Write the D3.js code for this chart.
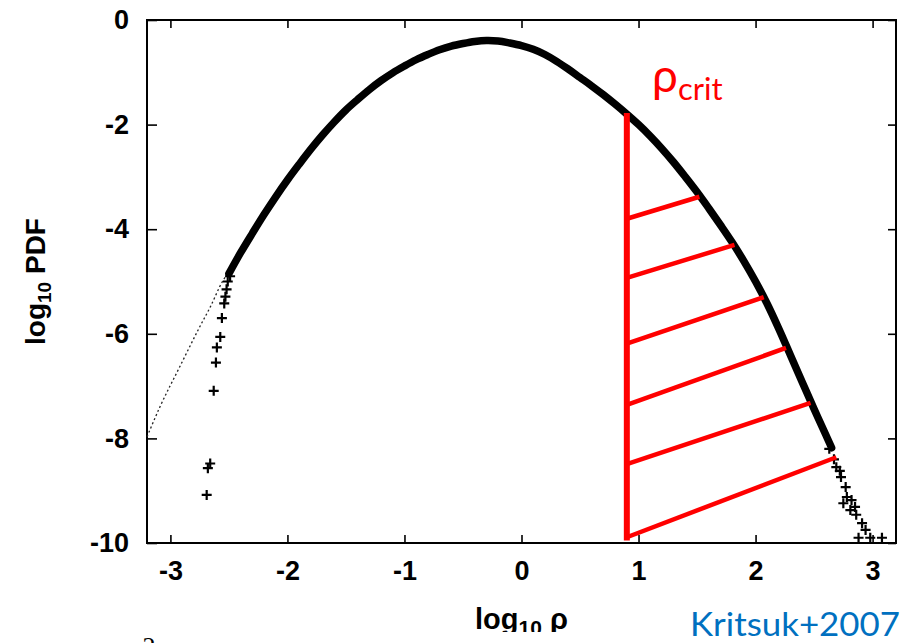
<!DOCTYPE html>
<html>
<head>
<meta charset="utf-8">
<script src="https://cdn.jsdelivr.net/npm/d3@7"></script>
<style>
  body { margin: 0; background: #fff; }
  svg { display: block; }
</style>
</head>
<body>
<svg id="chart" width="910" height="643"></svg>
<script>
// Axis ticks
const xTicks = [-3, -2, -1, 0, 1, 2, 3];
const yTicks = [0, -2, -4, -6, -8, -10];

// Density PDF, dense part of the distribution (log10 rho, log10 PDF)
const logRho = [-2.5, -2.4, -2.3, -2.2, -2.1, -2.0, -1.9, -1.8, -1.7, -1.6, -1.5, -1.4, -1.3, -1.2, -1.1, -1.0,
  -0.9, -0.8, -0.7, -0.6, -0.5, -0.4, -0.3, -0.2, -0.1, 0.0, 0.1, 0.2, 0.3, 0.4, 0.5, 0.6, 0.7, 0.8, 0.9,
  1.0, 1.1, 1.2, 1.3, 1.4, 1.5, 1.6, 1.7, 1.8, 1.9, 2.0, 2.1, 2.2, 2.3, 2.4, 2.5, 2.6, 2.65];
const logPdf = [-4.85, -4.45, -4.08, -3.72, -3.38, -3.06, -2.76, -2.47, -2.20, -1.95, -1.72, -1.52, -1.33, -1.16, -1.01, -0.88,
  -0.76, -0.66, -0.57, -0.50, -0.45, -0.41, -0.39, -0.40, -0.44, -0.49, -0.56, -0.66, -0.79, -0.94, -1.10, -1.26, -1.43, -1.61, -1.80,
  -2.00, -2.22, -2.46, -2.72, -3.00, -3.29, -3.60, -3.92, -4.25, -4.61, -5.00, -5.43, -5.91, -6.42, -6.93, -7.44, -7.93, -8.18];

// Sparse low-density samples
const lowRho = [-2.49, -2.51, -2.52, -2.53, -2.54, -2.56, -2.574, -2.603, -2.611, -2.63, -2.66, -2.68, -2.69];
const lowPdf = [-4.90, -5.00, -5.15, -5.29, -5.42, -5.70, -6.06, -6.26, -6.55, -7.09, -8.48, -8.57, -9.08];

// Sparse high-density samples
const highRho = [2.63, 2.67, 2.69, 2.72, 2.73, 2.77, 2.78, 2.75, 2.82, 2.85, 2.81, 2.86, 2.91, 2.94, 2.88, 2.98, 3.08];
const highPdf = [-8.20, -8.40, -8.55, -8.62, -8.74, -8.93, -9.12, -9.24, -9.18, -9.31, -9.37, -9.46, -9.62, -9.75, -9.90, -9.90, -9.90];

// Lognormal fit on the low-density side (dotted)
const fitRho = [-3.2, -3.09, -2.92, -2.75, -2.66, -2.55, -2.5];
const fitPdf = [-7.97, -7.40, -6.63, -5.87, -5.49, -4.98, -4.82];

// Critical density and the hatched region above it
const rhoCrit = 0.9;
const critTopPdf = -1.78;
const critBottomPdf = -9.95;
const hatchStartPdf = [-3.80, -4.93, -6.19, -7.36, -8.49, -9.89];
const hatchEndRho = [1.52, 1.82, 2.07, 2.26, 2.47, 2.69];
const hatchEndPdf = [-3.38, -4.30, -5.30, -6.27, -7.32, -8.36];

const svg = d3.select("#chart");
const W = 910, H = 643;
const plot = { left: 147, top: 20, right: 896, bottom: 543 };

const x = d3.scaleLinear().domain([-3.2, 3.2]).range([plot.left, plot.right]);
const y = d3.scaleLinear().domain([-10, 0]).range([plot.bottom, plot.top]);

const gnuFont = "'Liberation Sans', Arial, sans-serif";

// Axes with inward ticks, mirrored on top and right
function styleAxis(g) {
  g.select(".domain").remove();
  g.selectAll(".tick line").attr("stroke", "#000").attr("stroke-width", 1.6);
  g.selectAll(".tick text")
    .attr("fill", "#000")
    .style("font-family", gnuFont)
    .style("font-weight", "bold")
    .style("font-size", "27px");
}

svg.append("g")
  .attr("transform", `translate(0,${plot.bottom})`)
  .call(d3.axisBottom(x).tickValues(xTicks).tickSize(-8).tickPadding(18).tickFormat(d3.format("d")))
  .call(styleAxis);
svg.append("g")
  .attr("transform", `translate(0,${plot.top})`)
  .call(d3.axisTop(x).tickValues(xTicks).tickSize(-8).tickFormat(""))
  .call(styleAxis);
svg.append("g")
  .attr("transform", `translate(${plot.left},0)`)
  .call(d3.axisLeft(y).tickValues(yTicks).tickSize(-10).tickPadding(18).tickFormat(d3.format("d")))
  .call(styleAxis);
svg.append("g")
  .attr("transform", `translate(${plot.right},0)`)
  .call(d3.axisRight(y).tickValues(yTicks).tickSize(-8).tickFormat(""))
  .call(styleAxis);

// Minus signs as plain hyphens, as gnuplot prints them
svg.selectAll(".tick text").text(function () { return this.textContent.replace("\u2212", "-"); });

// Frame
svg.append("rect")
  .attr("x", plot.left).attr("y", plot.top)
  .attr("width", plot.right - plot.left).attr("height", plot.bottom - plot.top)
  .attr("fill", "none").attr("stroke", "#000").attr("stroke-width", 2);

// Axis titles (the x title sits at the lower edge of the figure and is trimmed there)
svg.append("defs").append("clipPath").attr("id", "cut")
  .append("rect").attr("x", 0).attr("y", 0).attr("width", W).attr("height", 632);

const xTitle = svg.append("text")
  .attr("clip-path", "url(#cut)")
  .attr("x", x(0)).attr("y", 629)
  .attr("text-anchor", "middle")
  .style("font-family", gnuFont).style("font-weight", "bold").style("font-size", "29px");
xTitle.append("tspan").text("log");
xTitle.append("tspan").attr("dy", 6).style("font-size", "21px").text("10");
xTitle.append("tspan").attr("dy", -6).text(" \u03c1");

const yTitle = svg.append("text")
  .attr("transform", `translate(45,${(plot.top + plot.bottom) / 2}) rotate(-90)`)
  .attr("text-anchor", "middle")
  .style("font-family", gnuFont).style("font-weight", "bold").style("font-size", "28px");
yTitle.append("tspan").text("log");
yTitle.append("tspan").attr("dy", 6).style("font-size", "19px").text("10");
yTitle.append("tspan").attr("dy", -6).text(" PDF");

// Plot contents
const plotArea = svg.append("g");

const fitLine = d3.line().x(d => x(d[0])).y(d => y(d[1])).curve(d3.curveMonotoneX);
plotArea.append("path")
  .datum(fitRho.map((r, i) => [r, fitPdf[i]]))
  .attr("d", fitLine)
  .attr("fill", "none").attr("stroke", "#222").attr("stroke-width", 1.3)
  .attr("stroke-dasharray", "2,2.5");

const pdfLine = d3.line().x(d => x(d[0])).y(d => y(d[1])).curve(d3.curveCatmullRom);
plotArea.append("path")
  .datum(logRho.map((r, i) => [r, logPdf[i]]))
  .attr("d", pdfLine)
  .attr("fill", "none").attr("stroke", "#000").attr("stroke-width", 7.5)
  .attr("stroke-linecap", "round").attr("stroke-linejoin", "round");

const plus = "M-5,0H5M0,-5V5";
const samples = lowRho.map((r, i) => [r, lowPdf[i]]).concat(highRho.map((r, i) => [r, highPdf[i]]));
plotArea.selectAll("path.pt")
  .data(samples)
  .join("path")
  .attr("class", "pt")
  .attr("transform", d => `translate(${x(d[0])},${y(d[1])})`)
  .attr("d", plus)
  .attr("stroke", "#000").attr("stroke-width", 2.2);

// Critical density line and hatching
const red = "#ff0000";
plotArea.append("line")
  .attr("x1", x(rhoCrit)).attr("x2", x(rhoCrit))
  .attr("y1", y(critTopPdf)).attr("y2", y(critBottomPdf))
  .attr("stroke", red).attr("stroke-width", 6);
plotArea.selectAll("line.hatch")
  .data(hatchStartPdf.map((p, i) => ({ y0: p, x1: hatchEndRho[i], y1: hatchEndPdf[i] })))
  .join("line")
  .attr("class", "hatch")
  .attr("x1", x(rhoCrit)).attr("y1", d => y(d.y0))
  .attr("x2", d => x(d.x1)).attr("y2", d => y(d.y1))
  .attr("stroke", red).attr("stroke-width", 4.5);

// Annotations
const crit = svg.append("text")
  .attr("x", 652).attr("y", 92)
  .attr("fill", red)
  .style("font-family", "Lato, 'Open Sans', sans-serif").style("font-size", "46px");
crit.append("tspan").text("\u03c1");
crit.append("tspan").attr("dy", 8).style("font-size", "31px").text("crit");

svg.append("text")
  .attr("x", 690).attr("y", 636)
  .attr("textLength", 210).attr("lengthAdjust", "spacingAndGlyphs")
  .attr("fill", "#0070c0")
  .style("font-family", "Lato, 'Open Sans', sans-serif").style("font-size", "32px")
  .text("Kritsuk+2007");

svg.append("text")
  .attr("x", 149).attr("y", 655)
  .attr("text-anchor", "middle")
  .attr("fill", "#000")
  .style("font-family", "'Liberation Serif', serif").style("font-size", "26px")
  .text("2");
</script>
</body>
</html>
